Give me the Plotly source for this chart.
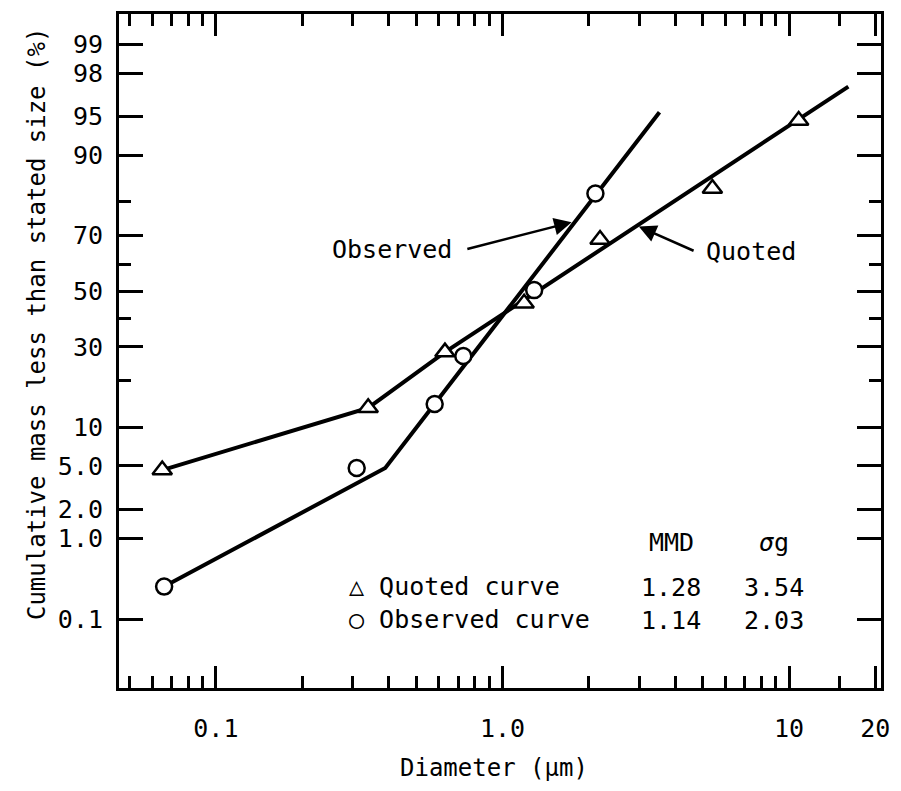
import math
import plotly.graph_objects as go

# ---------------- data ----------------
quoted_d = [0.065, 0.34, 0.63, 1.19, 2.19, 5.4, 10.8]
quoted_p = [4.6, 13.6, 28.3, 45.5, 68.7, 83.3, 94.6]
observed_d = [0.066, 0.31, 0.58, 0.73, 1.29, 2.11]
observed_p = [0.27, 4.8, 14.4, 27.1, 50.4, 82.1]

quoted_fit_d = [0.065, 0.34, 0.63, 16.1]
quoted_fit_p = [4.6, 13.6, 28.3, 97.3]
observed_fit_d = [0.066, 0.39, 3.53]
observed_fit_p = [0.27, 4.8, 95.4]

y_tick_p = [0.1, 1, 2, 5, 10, 30, 50, 70, 90, 95, 98, 99]
y_tick_text = ["0.1", "1.0", "2.0", "5.0", "10", "30", "50", "70", "90", "95", "98", "99"]
y_minor_p = [20, 40, 60, 80]
x_tick_vals = [0.1, 1, 10, 20]
x_tick_text = ["0.1", "1.0", "10", "20"]
x_minor_vals = [0.05, 0.06, 0.07, 0.08, 0.09, 0.2, 0.3, 0.4, 0.5, 0.6, 0.7, 0.8, 0.9,
                2, 3, 4, 5, 6, 7, 8, 9, 15]

table_rows = [["MMD", "<i>σ</i>g"], ["1.28", "3.54"], ["1.14", "2.03"]]
legend_rows = ["△ Quoted curve", "○ Observed curve"]


def probit(p):
    """Normal quantile of a percentage (probability-paper scale)."""
    q = p / 100.0
    lo, hi = -10.0, 10.0
    for _ in range(80):
        mid = (lo + hi) / 2
        if 0.5 * (1 + math.erf(mid / math.sqrt(2))) < q:
            lo = mid
        else:
            hi = mid
    return (lo + hi) / 2


def pz(vals):
    return [probit(v) for v in vals]


FONT = "DejaVu Sans Mono"
W, H = 901, 791
L, R, T, B = 119, 890, 12, 688


def px(x):
    return (x - L) / (R - L)


def py(y):
    return (B - y) / (B - T)


fig = go.Figure()
fig.add_trace(go.Scatter(x=observed_fit_d, y=pz(observed_fit_p), mode="lines",
                         line=dict(color="black", width=4), showlegend=False))
fig.add_trace(go.Scatter(x=quoted_fit_d, y=pz(quoted_fit_p), mode="lines",
                         line=dict(color="black", width=4), showlegend=False))
fig.add_trace(go.Scatter(x=quoted_d, y=pz(quoted_p), mode="markers",
                         marker=dict(symbol="triangle-up", size=17, color="white",
                                     line=dict(color="black", width=2.5)),
                         showlegend=False))
fig.add_trace(go.Scatter(x=observed_d, y=pz(observed_p), mode="markers",
                         marker=dict(symbol="circle", size=16, color="white",
                                     line=dict(color="black", width=2.5)),
                         showlegend=False))

ann = []
# Observed label + arrow
ann.append(dict(x=math.log10(1.743), y=probit(74.2), ax=math.log10(0.745), ay=probit(65.3),
                xref="x", yref="y", axref="x", ayref="y", showarrow=True,
                arrowhead=2, arrowsize=1.4, arrowwidth=2.5, arrowcolor="black", text=""))
ann.append(dict(x=px(458), y=py(248), xref="paper", yref="paper", xanchor="right",
                yanchor="middle", text="Observed", showarrow=False,
                font=dict(family=FONT, size=25, color="black")))
# Quoted label + arrow
ann.append(dict(x=math.log10(2.99), y=probit(72.9), ax=math.log10(4.70), ay=probit(64.6),
                xref="x", yref="y", axref="x", ayref="y", showarrow=True,
                arrowhead=2, arrowsize=1.4, arrowwidth=2.5, arrowcolor="black", text=""))
ann.append(dict(x=px(711), y=py(250), xref="paper", yref="paper", xanchor="left",
                yanchor="middle", text="Quoted", showarrow=False,
                font=dict(family=FONT, size=25, color="black")))
# Table
col_x = [678, 782]
row_y = [542, 587, 620]
for r, row in enumerate(table_rows):
    for c, txt in enumerate(row):
        ann.append(dict(x=px(col_x[c]), y=py(row_y[r]), xref="paper", yref="paper",
                        xanchor="center", yanchor="middle", text=txt, showarrow=False,
                        font=dict(family=FONT, size=25, color="black")))
for i, txt in enumerate(legend_rows):
    ann.append(dict(x=px(350), y=py(row_y[i + 1] - 1), xref="paper", yref="paper",
                    xanchor="left", yanchor="middle", text=txt, showarrow=False,
                    font=dict(family=FONT, size=25, color="black")))
# Axis titles
ann.append(dict(x=px(36), y=py(323), xref="paper", yref="paper", xanchor="center",
                yanchor="middle", textangle=-90, showarrow=False,
                text="Cumulative mass less than stated size (%)",
                font=dict(family=FONT, size=24, color="black")))
ann.append(dict(x=px(498), y=py(768), xref="paper", yref="paper", xanchor="center",
                yanchor="middle", showarrow=False, text="Diameter (µm)",
                font=dict(family=FONT, size=24, color="black")))

x_left = -1 - (217 - L) / 290.0
x_right = x_left + (R - L) / 290.0
z50 = 290
scale = 106.5
y_top = (z50 - T) / scale
y_bot = (z50 - B) / scale

fig.update_layout(
    width=W, height=H,
    margin=dict(l=L, r=W - R, t=T, b=H - B),
    paper_bgcolor="white", plot_bgcolor="white",
    showlegend=False,
    annotations=ann,
    font=dict(family=FONT, color="black"),
)
fig.update_xaxes(
    type="log", range=[x_left, x_right],
    tickvals=x_tick_vals, ticktext=x_tick_text,
    ticks="inside", ticklen=22, tickwidth=2.5, tickcolor="black",
    minor=dict(tickvals=x_minor_vals, ticks="inside", ticklen=12, tickwidth=2.5,
               tickcolor="black", showgrid=False),
    showline=True, linewidth=3, linecolor="black", mirror="allticks",
    showgrid=False, zeroline=False,
    tickfont=dict(family=FONT, size=25, color="black"),
    ticklabelstandoff=16,
)
fig.update_yaxes(
    range=[y_bot, y_top],
    tickvals=pz(y_tick_p), ticktext=y_tick_text,
    ticks="inside", ticklen=24, tickwidth=2.5, tickcolor="black",
    minor=dict(tickvals=pz(y_minor_p), ticks="inside", ticklen=12, tickwidth=2.5,
               tickcolor="black", showgrid=False),
    showline=True, linewidth=3, linecolor="black", mirror="allticks",
    showgrid=False, zeroline=False,
    tickfont=dict(family=FONT, size=25, color="black"),
    ticklabelstandoff=8,
)

fig.write_html("out.html")
